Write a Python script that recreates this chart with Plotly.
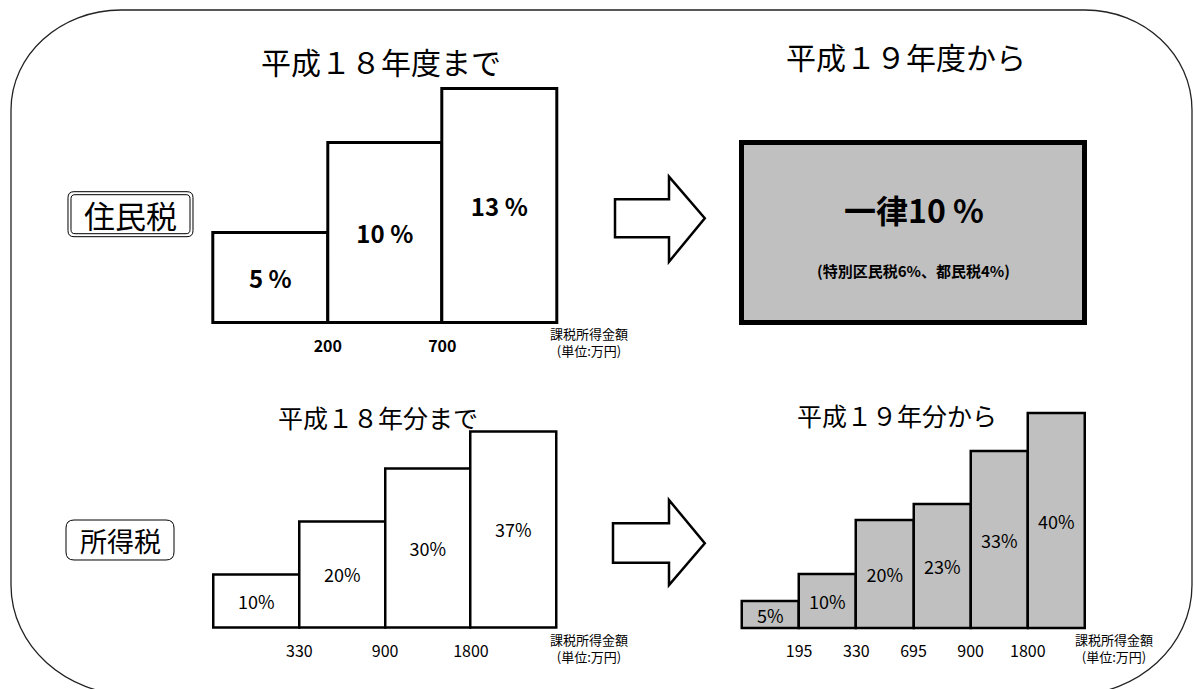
import plotly.graph_objects as go

W, H = 1194, 689
FONT = "Noto Sans CJK JP"

# ---- data ----
jumin_old_rates = [5, 10, 13]
jumin_old_labels = ["5 %", "10 %", "13 %"]
jumin_old_bounds = ["200", "700"]

jumin_new_rate = [10]

shotoku_old_rates = [10, 20, 30, 37]
shotoku_old_bounds = ["330", "900", "1800"]

shotoku_new_rates = [5, 10, 20, 23, 33, 40]
shotoku_new_bounds = ["195", "330", "695", "900", "1800"]

title_jumin_old = "平成１８年度まで"
title_jumin_new = "平成１９年度から"
title_shotoku_old = "平成１８年分まで"
title_shotoku_new = "平成１９年分から"
axis_note = "課税所得金額<br>(単位:万円)"


def X(px):
    return px / W


def Y(py):
    return 1 - py / H


def pt(px, py):
    return f"{X(px):.5f},{Y(py):.5f}"


def rrect(x0, y0, x1, y1, r):
    return (f"M {pt(x0 + r, y0)} L {pt(x1 - r, y0)} Q {pt(x1, y0)} {pt(x1, y0 + r)} "
            f"L {pt(x1, y1 - r)} Q {pt(x1, y1)} {pt(x1 - r, y1)} "
            f"L {pt(x0 + r, y1)} Q {pt(x0, y1)} {pt(x0, y1 - r)} "
            f"L {pt(x0, y0 + r)} Q {pt(x0, y0)} {pt(x0 + r, y0)} Z")


fig = go.Figure()

# ---- bar charts ----
fig.add_trace(go.Bar(
    x=list(range(len(jumin_old_rates))), y=jumin_old_rates, width=1,
    marker=dict(color="white", line=dict(color="black", width=3)),
    text=jumin_old_labels, textposition="inside", insidetextanchor="middle",
    constraintext="none", textfont=dict(family=FONT, size=24, color="black", weight="bold"),
    cliponaxis=False, xaxis="x2", yaxis="y2", hoverinfo="skip", showlegend=False))

fig.add_trace(go.Bar(
    x=[0], y=jumin_new_rate, width=1,
    marker=dict(color="#c0c0c0", line=dict(color="black", width=5)),
    cliponaxis=False, xaxis="x3", yaxis="y3", hoverinfo="skip", showlegend=False))

fig.add_trace(go.Bar(
    x=list(range(len(shotoku_old_rates))), y=shotoku_old_rates, width=1,
    marker=dict(color="white", line=dict(color="black", width=2.5)),
    text=[f"{r}%" for r in shotoku_old_rates], textposition="inside", insidetextanchor="middle",
    constraintext="none", textfont=dict(family=FONT, size=18, color="black"),
    cliponaxis=False, xaxis="x4", yaxis="y4", hoverinfo="skip", showlegend=False))

fig.add_trace(go.Bar(
    x=list(range(len(shotoku_new_rates))), y=shotoku_new_rates, width=1,
    marker=dict(color="#c0c0c0", line=dict(color="black", width=2.5)),
    text=[f"{r}%" for r in shotoku_new_rates], textposition="inside", insidetextanchor="middle",
    constraintext="none", textfont=dict(family=FONT, size=18, color="black"),
    cliponaxis=False, xaxis="x5", yaxis="y5", hoverinfo="skip", showlegend=False))

PAD = 6  # px of breathing room around each plot area so outlines are not clipped


def xax(left, right, n, bounds, bold=False, ticks=True):
    per = (right - left) / n
    pad_u = PAD / per
    d = dict(domain=[X(left - PAD), X(right + PAD)], range=[-0.5 - pad_u, n - 0.5 + pad_u],
             showgrid=False, zeroline=False, showline=False, ticks="", fixedrange=True)
    if ticks:
        d.update(tickvals=[i + 0.5 for i in range(len(bounds))], ticktext=bounds,
                 ticklabelstandoff=6,
                 tickfont=dict(family=FONT, size=16, color="black",
                               weight="bold" if bold else "normal"))
    else:
        d.update(showticklabels=False)
    return d


def yax(base, top, vmax):
    per = (base - top) / vmax
    return dict(visible=False, fixedrange=True, domain=[Y(base + PAD), Y(top - PAD)],
                range=[-PAD / per, vmax + PAD / per])


fig.update_layout(
    width=W, height=H, margin=dict(l=0, r=0, t=0, b=0),
    paper_bgcolor="white", plot_bgcolor="rgba(0,0,0,0)",
    bargap=0, showlegend=False,
    xaxis2=dict(**xax(213.3, 556.8, 3, jumin_old_bounds, bold=True), anchor="y2"),
    yaxis2=dict(**yax(323, 89, 13), anchor="x2"),
    xaxis3=dict(**xax(742, 1085, 1, [], ticks=False), anchor="y3"),
    yaxis3=dict(**yax(323, 89, 13), anchor="x3"),
    xaxis4=dict(**xax(213.5, 556.8, 4, shotoku_old_bounds), anchor="y4"),
    yaxis4=dict(**yax(628, 431.7, 37), anchor="x4"),
    xaxis5=dict(**xax(742, 1085, 6, shotoku_new_bounds), anchor="y5"),
    yaxis5=dict(**yax(628, 413.3, 40), anchor="x5"),
)

# ---- frame ----
k = 0.5523
frame = (
    f"M {pt(11, 110)} C {pt(11, 110 - k * 100)} {pt(121 - k * 110, 10)} {pt(121, 10)} "
    f"L {pt(1085, 10)} C {pt(1085 + k * 107, 10)} {pt(1192, 110 - k * 100)} {pt(1192, 110)} "
    f"L {pt(1192, 585)} C {pt(1192, 585 + k * 110)} {pt(1072 + k * 120, 695)} {pt(1072, 695)} "
    f"L {pt(132.7, 695)} C {pt(132.7 - k * 121.7, 695)} {pt(11, 585 + k * 110)} {pt(11, 585)} Z"
)
shapes = [dict(type="path", xref="paper", yref="paper", path=frame,
               line=dict(color="#222222", width=1.3), layer="below")]

# arrows
for (sx, st, sb, hb, ht, hbot, tip, ty) in [
        (615, 199.3, 237.3, 669, 176.7, 261.7, 704.8, 218.3),
        (613, 523.3, 562.7, 669, 500, 585, 704.8, 543.3)]:
    p = (f"M {pt(sx, st)} L {pt(hb, st)} L {pt(hb, ht)} L {pt(tip, ty)} "
         f"L {pt(hb, hbot)} L {pt(hb, sb)} L {pt(sx, sb)} Z")
    shapes.append(dict(type="path", xref="paper", yref="paper", path=p,
                       fillcolor="white", line=dict(color="black", width=2.5)))

# label boxes
shapes.append(dict(type="path", xref="paper", yref="paper", path=rrect(68, 191.7, 193, 236.7, 6),
                   line=dict(color="black", width=1)))
shapes.append(dict(type="path", xref="paper", yref="paper", path=rrect(71, 194.7, 190, 233.7, 4),
                   line=dict(color="black", width=1)))
shapes.append(dict(type="path", xref="paper", yref="paper", path=rrect(66, 520, 174, 560, 8),
                   line=dict(color="black", width=1)))
fig.update_layout(shapes=shapes)


def ann(text, cx, cy, size, bold=False, align="center"):
    return dict(text=text, x=X(cx), y=Y(cy), xref="paper", yref="paper",
                xanchor="center", yanchor="middle", showarrow=False, align=align,
                font=dict(family=FONT, size=size, color="black",
                          weight="bold" if bold else "normal"))


annotations = [
    ann(title_jumin_old, 381, 61, 30),
    ann(title_jumin_new, 906, 56, 30),
    ann(title_shotoku_old, 378, 417, 25),
    ann(title_shotoku_new, 897, 415, 25),
    ann("住民税", 130.5, 214.2, 31),
    ann("所得税", 120, 540, 27),
    ann("一律10 %", 913.6, 209, 32, bold=True),
    ann("(特別区民税6%、都民税4%)", 913.6, 270, 15, bold=True),
    ann(axis_note, 589, 342, 13),
    ann(axis_note, 589, 648, 13),
    ann(axis_note, 1114, 648, 13),
]
fig.update_layout(annotations=annotations)

fig.write_html("out.html")
